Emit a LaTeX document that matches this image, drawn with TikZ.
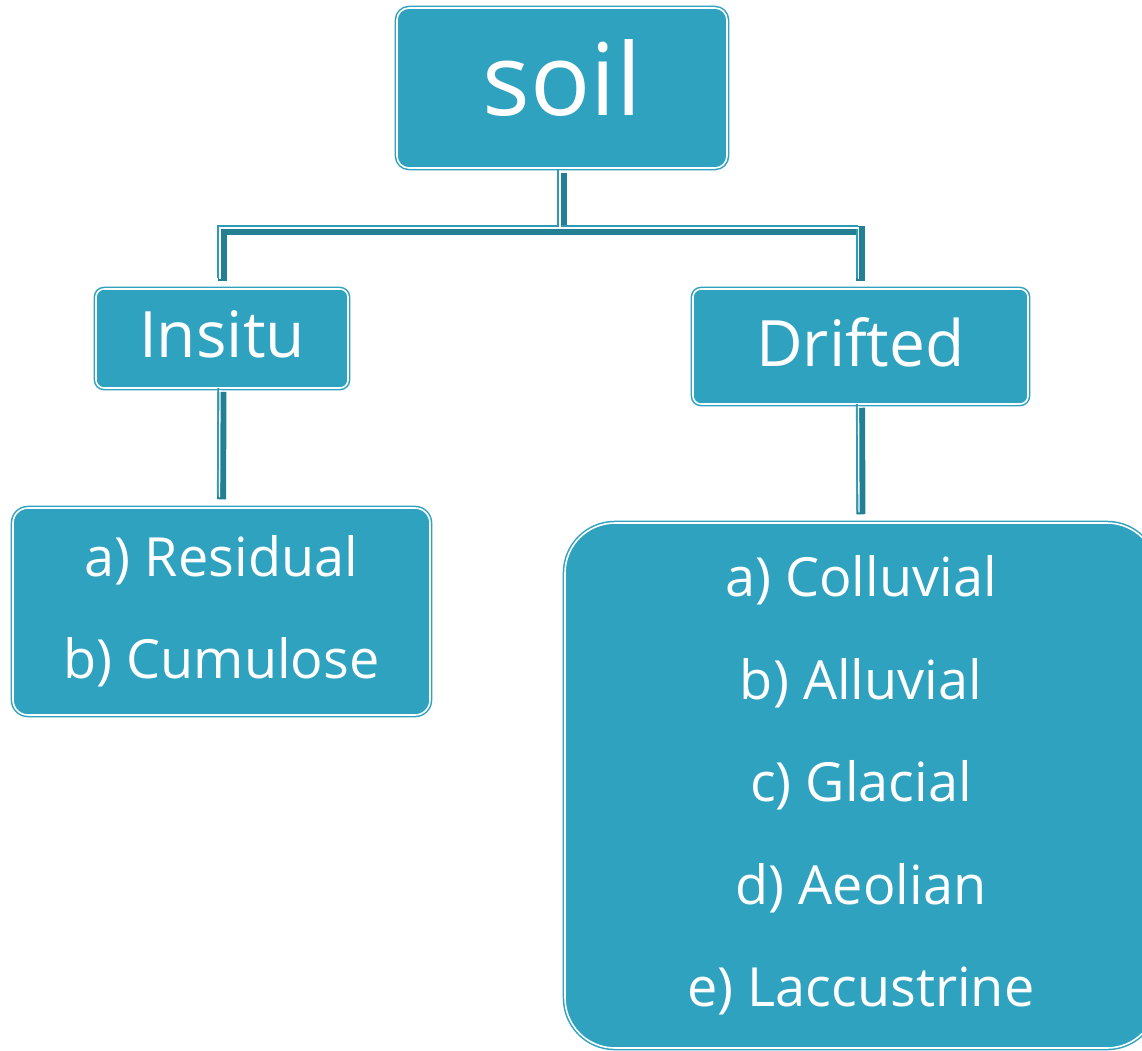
\documentclass[tikz,border=0pt]{standalone}
\usepackage{fontspec}
\setmainfont{Open Sans}
\definecolor{boxfill}{HTML}{2EA2BF}
\definecolor{linkdark}{HTML}{237F94}
\definecolor{linklight}{HTML}{2E9AB5}
\tikzset{
  tbox/.style={draw=boxfill, line width=1.5pt, double=white, double distance=1.6pt,
    fill=boxfill, text=white, inner sep=0pt, align=center},
  linkbase/.style={draw=linkdark, line width=9pt},
  linkwhite/.style={draw=white, line width=1.3pt, transform canvas={xshift=-2pt,yshift=2pt}},
  linklite/.style={draw=linklight, line width=2pt, transform canvas={xshift=-3.6pt,yshift=3.6pt}},
}
\newcommand{\liftup}[2]{\raisebox{#1}[\height][0pt]{#2}}
\begin{document}
\begin{tikzpicture}[x=1pt,y=-1pt]
\clip (0,0) rectangle (1142,1050);
\fill[white] (0,0) rectangle (1142,1050);

\node[tbox, minimum width=330pt, minimum height=160pt, rounded corners=12pt,
  font=\fontsize{100}{110}\selectfont] (soil) at (562,88) {\liftup{10pt}{soil}};
\node[tbox, minimum width=252pt, minimum height=99pt, rounded corners=8pt,
  font=\fontsize{64}{70}\selectfont] (insitu) at (222,338.5) {\liftup{4pt}{Insitu}};
\node[tbox, minimum width=335pt, minimum height=115pt, rounded corners=8pt,
  font=\fontsize{64}{70}\selectfont] (drifted) at (860.5,346.5) {\liftup{4pt}{Drifted}};
\node[tbox, minimum width=417pt, minimum height=207pt, rounded corners=15pt,
  font=\fontsize{54}{102}\selectfont] (resid) at (221.5,611.5) {a) Residual\\b) Cumulose};
\node[tbox, minimum width=592pt, minimum height=525pt, rounded corners=50pt,
  font=\fontsize{54}{102.5}\selectfont] (dlist) at (861,785.5)
  {a) Colluvial\\b) Alluvial\\c) Glacial\\d) Aeolian\\e) Laccustrine};

\coordinate (j) at (562,230);
\foreach \st in {linkbase,linklite,linkwhite}{
  \draw[\st, shorten <=4pt, shorten >=7pt] (soil.south) -- (j) -| (insitu.north);
  \draw[\st, shorten <=4pt, shorten >=7pt] (soil.south) -- (j) -| (drifted.north);
  \draw[\st, shorten <=3pt, shorten >=8pt] (insitu.south) -- (resid.north);
  \draw[\st, shorten <=3pt, shorten >=8pt] (drifted.south) -- (dlist.north);
}
\end{tikzpicture}
\end{document}
